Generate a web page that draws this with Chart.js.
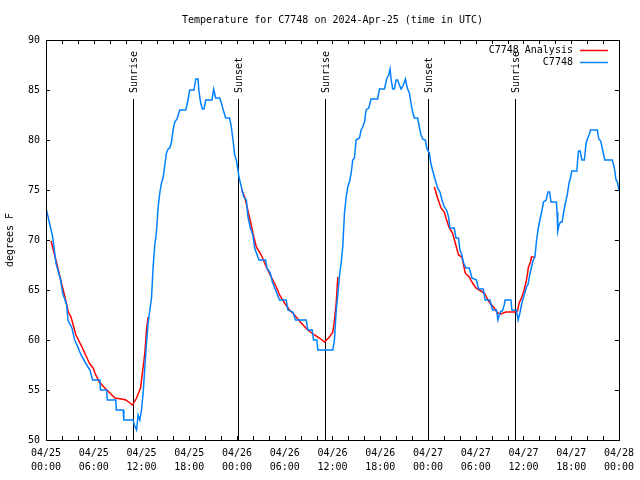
<!DOCTYPE html>
<html><head><meta charset="utf-8">
<script src="https://cdn.jsdelivr.net/npm/chart.js@4/dist/chart.umd.min.js"></script>
<style>html,body{margin:0;padding:0;background:#fff}</style>
</head><body>
<canvas id="c" width="640" height="480"></canvas>
<script>
// ---- data (hours since 04/25 00:00 UTC, degrees F) ----
const titleText = 'Temperature for C7748 on 2024-Apr-25 (time in UTC)';
const yTitle = 'degrees F';
const seriesNames = ['C7748 Analysis', 'C7748'];
const seriesColors = ['#ff0000', '#0080ff'];
const startDay = 25;            // 04/25
const monthLabel = '04';
const xMinHours = 0, xMaxHours = 72;
const yMin = 50, yMax = 90;

const c7748 = [[0,73.2],[0.84,70.3],[1.25,67.7],[1.84,66],[2.09,64.7],[2.6,63.5],[2.76,62],[3.26,61.2],[3.6,60],[4.01,59.3],[4.4,58.5],[4.77,58],[5.27,57.3],[5.52,57],[5.86,56],[6.77,56],[6.84,55],[7.61,55],[7.71,54],[8.78,54],[8.84,53],[9.7,53],[9.78,52],[10.95,52],[11.1,51.5],[11.38,51],[11.58,52.5],[11.79,52],[12.0,53],[12.21,54.7],[12.42,57.3],[12.63,59.7],[12.83,61.7],[13.05,63],[13.26,64.2],[13.46,67.3],[13.67,69.5],[13.88,70.8],[14.09,73.3],[14.3,74.7],[14.51,75.7],[14.71,76.2],[14.93,77.5],[15.14,78.7],[15.34,79.1],[15.55,79.2],[15.77,79.8],[15.97,81],[16.18,81.8],[16.47,82.1],[16.81,83],[17.56,83],[17.77,83.7],[18.06,85],[18.6,85],[18.82,86.1],[19.1,86.1],[19.23,84.8],[19.44,83.7],[19.66,83.1],[19.86,83.1],[20.07,84],[20.86,84],[21.07,85.1],[21.32,84.2],[21.83,84.2],[22.04,83.7],[22.24,83.1],[22.58,82.2],[23.08,82.2],[23.29,81.3],[23.5,80],[23.71,78.5],[23.92,78],[24.12,77],[24.25,76.3],[24.55,75.3],[24.84,74.3],[25.18,74],[25.38,72.3],[25.68,71.2],[26.0,70.5],[26.22,69.2],[26.76,68],[27.6,68],[27.76,67.2],[28.19,66.7],[28.44,65.8],[28.85,65],[29.35,64],[30.19,64],[30.39,63],[31.02,62.8],[31.36,62],[32.7,62],[32.9,61],[33.45,61],[33.62,60],[34.03,60],[34.16,59],[36.04,59],[36.25,60],[36.47,63],[36.67,64.5],[36.88,66.5],[37.09,67.7],[37.29,69.3],[37.51,72.7],[37.72,74.3],[37.92,75.3],[38.13,75.8],[38.35,76.7],[38.55,78],[38.76,78.2],[38.97,80],[39.39,80.2],[39.6,81],[39.8,81.3],[40.02,81.8],[40.23,83],[40.56,83.2],[40.85,84.1],[41.68,84.1],[41.9,85.1],[42.52,85.1],[42.65,85.5],[42.81,86.1],[43.06,86.5],[43.24,87.1],[43.36,86.1],[43.57,85.1],[43.78,85.1],[43.99,86],[44.19,86],[44.41,85.5],[44.62,85.1],[44.91,85.5],[45.16,86.1],[45.32,85.5],[45.45,85.1],[45.66,84.7],[45.87,83.7],[46.07,82.8],[46.29,82.2],[46.7,82.2],[46.91,81.3],[47.13,80.5],[47.33,80.1],[47.67,80],[47.88,79.1],[48.17,78.7],[48.38,77.6],[48.67,76.7],[48.92,76],[49.21,75.2],[49.51,74.8],[49.76,74],[50.05,73.3],[50.34,73],[50.59,72.3],[50.76,71.2],[51.3,71.2],[51.52,70.2],[51.84,70.2],[52.02,69],[52.27,68.5],[52.43,67.8],[52.77,67.2],[53.19,67.2],[53.53,66.2],[54.1,66],[54.35,65.1],[54.94,65.1],[55.19,64],[55.78,64],[56.11,63],[56.61,63],[56.79,62],[56.95,62.5],[57.16,62.9],[57.36,62.9],[57.58,63.5],[57.7,64],[58.42,64],[58.54,63],[59.12,63],[59.33,62],[59.55,62.7],[59.8,63.7],[60.09,64.5],[60.38,65.3],[60.59,65.6],[60.8,66.6],[61.01,67.3],[61.23,68],[61.44,68.3],[61.65,70],[61.87,71.2],[62.09,72.1],[62.31,72.9],[62.52,73.8],[62.86,74],[63.07,74.8],[63.29,74.8],[63.46,73.8],[64.14,73.8],[64.22,72.8],[64.31,70.9],[64.44,71.4],[64.65,71.8],[64.86,71.8],[65.08,72.9],[65.3,73.8],[65.52,74.6],[65.73,75.7],[65.94,76.3],[66.07,76.9],[66.71,76.9],[66.8,77.9],[66.92,78.9],[67.13,78.9],[67.35,78],[67.65,78],[67.86,79.6],[67.99,80],[68.29,80.6],[68.43,81],[69.28,81],[69.46,80.1],[69.71,79.9],[69.92,79.1],[70.22,78],[71.16,78],[71.42,77.2],[71.64,76],[71.81,75.8],[72,75]];

const c7748Analysis = [[0.63,69.9],[1.34,67.7],[1.84,66],[2.26,64.7],[2.8,62.8],[3.14,62.3],[3.76,60.5],[4.52,59.3],[5.27,58],[5.52,57.6],[5.93,57.2],[6.15,56.7],[6.69,55.8],[7.4,55.2],[8.03,54.7],[8.66,54.2],[9.5,54.1],[10.04,54],[10.54,53.7],[10.88,53.5],[11.38,54.2],[11.88,55.2],[12.21,57.3],[12.42,58.7],[12.63,61],[12.83,62.3],[18,null],[24.59,75],[24.97,74.3],[25.59,72.2],[26.0,70.7],[26.43,69.3],[27.06,68.5],[27.68,67.3],[28.31,66.3],[28.94,65.3],[29.35,64.5],[29.98,63.7],[30.61,63],[31.23,62.5],[32.07,61.7],[32.9,61],[33.74,60.5],[34.37,60.2],[35.0,59.8],[35.62,60.3],[36.04,60.8],[36.25,62],[36.47,63.7],[36.67,66.3],[42,null],[48.8,75.3],[49.21,74.2],[49.64,73.2],[50.05,72.8],[50.34,72],[50.68,71.2],[51.09,70.7],[51.43,69.7],[51.84,68.5],[52.27,68.3],[52.68,66.7],[53.19,66.3],[53.6,65.7],[54.03,65.2],[54.44,65],[55.07,64.7],[55.69,63.8],[56.32,63.2],[56.74,62.7],[57.16,62.6],[57.79,62.8],[59.04,62.8],[59.25,62.9],[59.46,63.7],[59.8,64.3],[60.09,65],[60.38,66],[60.63,67.3],[60.89,67.8],[61.01,68.3],[61.36,68.3]];

const sunEventHours  = [10.91, 24.08, 35.0, 48.05, 58.96];
const sunEventLabels = ['Sunrise', 'Sunset', 'Sunrise', 'Sunset', 'Sunrise'];
const sunLineTopValue = 84.1;

// ---- chart ----
const FONT = '"DejaVu Sans Mono", "Liberation Mono", monospace';
const fontSpec = {family: FONT, size: 10, weight: 'normal', lineHeight: 1.4};

function xLabel(v) {
  if (v % 6 !== 0) return '';
  const day = startDay + Math.floor(v / 24);
  const hr = v % 24;
  return [monthLabel + '/' + String(day).padStart(2, '0'), String(hr).padStart(2, '0') + ':00'];
}

const decor = {
  id: 'decor',
  beforeDatasetsDraw(chart) {
    const ctx = chart.ctx, xs = chart.scales.x, ys = chart.scales.y, a = chart.chartArea;
    ctx.save();
    ctx.strokeStyle = '#000'; ctx.lineWidth = 1; ctx.fillStyle = '#000';
    ctx.font = '10px ' + FONT;
    const topPx = ys.getPixelForValue(sunLineTopValue);
    sunEventHours.forEach((h, i) => {
      const px = Math.round(xs.getPixelForValue(h)) + 0.5;
      ctx.beginPath(); ctx.moveTo(px, a.bottom); ctx.lineTo(px, topPx); ctx.stroke();
      ctx.save();
      ctx.translate(px + 1, topPx - 6);
      ctx.rotate(-Math.PI / 2);
      ctx.textAlign = 'left'; ctx.textBaseline = 'middle';
      ctx.fillText(sunEventLabels[i], 0, 0);
      ctx.restore();
    });
    ctx.restore();
  },
  afterDatasetsDraw(chart) {
    const ctx = chart.ctx, xs = chart.scales.x, ys = chart.scales.y, a = chart.chartArea;
    ctx.save();
    ctx.strokeStyle = '#000'; ctx.lineWidth = 1;
    ctx.strokeRect(Math.round(a.left) + 0.5, Math.round(a.top) + 0.5,
                   Math.round(a.right - a.left), Math.round(a.bottom - a.top));
    const tl = 4;
    ctx.beginPath();
    xs.ticks.forEach(t => {
      const px = Math.round(xs.getPixelForValue(t.value)) + 0.5;
      ctx.moveTo(px, a.bottom); ctx.lineTo(px, a.bottom - tl);
      ctx.moveTo(px, a.top); ctx.lineTo(px, a.top + tl);
    });
    ys.ticks.forEach(t => {
      const py = Math.round(ys.getPixelForValue(t.value)) + 0.5;
      ctx.moveTo(a.left, py); ctx.lineTo(a.left + tl, py);
      ctx.moveTo(a.right, py); ctx.lineTo(a.right - tl, py);
    });
    ctx.stroke();
    // legend
    ctx.font = '10px ' + FONT; ctx.fillStyle = '#000';
    ctx.textAlign = 'right'; ctx.textBaseline = 'middle';
    seriesNames.forEach((n, i) => {
      const y = a.top + 10 + i * 12;
      ctx.fillText(n, a.right - 46, y);
      ctx.strokeStyle = seriesColors[i]; ctx.lineWidth = 1.5;
      ctx.beginPath(); ctx.moveTo(a.right - 39, y + 0.5); ctx.lineTo(a.right - 11, y + 0.5); ctx.stroke();
    });
    ctx.restore();
  }
};

new Chart(document.getElementById('c'), {
  type: 'line',
  data: {
    datasets: [
      {label: seriesNames[0], data: c7748Analysis.map(p => ({x: p[0], y: p[1]})),
       borderColor: seriesColors[0], backgroundColor: seriesColors[0], borderWidth: 1.5,
       pointRadius: 0, tension: 0, spanGaps: false, order: 2},
      {label: seriesNames[1], data: c7748.map(p => ({x: p[0], y: p[1]})),
       borderColor: seriesColors[1], backgroundColor: seriesColors[1], borderWidth: 1.5,
       pointRadius: 0, tension: 0, order: 1}
    ]
  },
  options: {
    responsive: false, animation: false, devicePixelRatio: 1,
    layout: {padding: {left: 0, right: 20, top: 0, bottom: 0}},
    plugins: {
      legend: {display: false}, tooltip: {enabled: false},
      title: {display: true, text: titleText, fullSize: false, color: '#000',
              font: {family: FONT, size: 10, weight: 'normal', lineHeight: 1.2},
              padding: {top: 14, bottom: 14}}
    },
    scales: {
      x: {type: 'linear', min: xMinHours, max: xMaxHours,
          grid: {display: false, drawTicks: false}, border: {display: false},
          ticks: {stepSize: 2, autoSkip: false, maxRotation: 0, minRotation: 0,
                  color: '#000', font: fontSpec, padding: 6, callback: v => xLabel(v)},
          afterFit: s => { s.height = 40; }},
      y: {min: yMin, max: yMax,
          grid: {display: false, drawTicks: false}, border: {display: false},
          ticks: {stepSize: 5, color: '#000', font: {family: FONT, size: 10}, padding: 6},
          title: {display: true, text: yTitle, color: '#000',
                  font: {family: FONT, size: 10, lineHeight: 1.2}, padding: {top: 4, bottom: 4}},
          afterFit: s => { s.width = 46; }}
    }
  },
  plugins: [decor]
});
</script>
</body></html>
